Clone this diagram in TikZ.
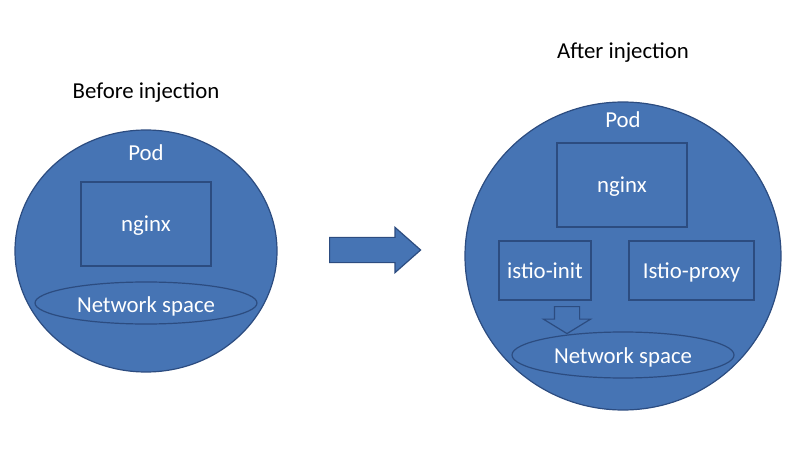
\documentclass[tikz,border=0pt]{standalone}
\usepackage{fontspec}
\setmainfont{Carlito}
\usetikzlibrary{shapes.geometric,shapes.arrows}
\definecolor{podblue}{RGB}{70,116,180}
\definecolor{podline}{RGB}{44,76,128}
\begin{document}
\begin{tikzpicture}[x=1pt,y=-1pt,
    blue/.style={fill=podblue, draw=podline, line width=1.2pt},
    txt/.style={font=\fontsize{22.8}{26}\selectfont, anchor=base}]

        \useasboundingbox (0,0) rectangle (796,468);

        % pods and what sits in them
        \begin{scope}[every node/.style={blue, inner sep=0pt}]
          \node[ellipse, minimum width=262, minimum height=242] (p1) at (146,251) {};
          \node[ellipse, minimum width=316, minimum height=308] (p2) at (623,256) {};
          \node[rectangle, minimum width=130, minimum height=84] (n1) at (146,224) {};
          \node[rectangle, minimum width=130, minimum height=84] (n2) at (622,185) {};
          \node[rectangle, minimum width=92, minimum height=59] (i) at (545,270.5) {};
          \node[rectangle, minimum width=125, minimum height=59] (x) at (691.5,270.5) {};
          \node[ellipse, minimum width=222, minimum height=42] (s1) at (146,303) {};
          \node[ellipse, minimum width=222, minimum height=46] (s2) at (623,355) {};
          \node[single arrow, anchor=tail, text height=12pt, text depth=12pt, minimum height=91,
                single arrow head extend=10, single arrow tip angle=83] (a) at (329,250) {};
          \node[single arrow, anchor=tail, rotate=-90, text height=12pt, text depth=12pt, minimum height=27,
                single arrow head extend=11, single arrow tip angle=117] (d) at (567,306) {};
        \end{scope}

        % labels
        \begin{scope}[every node/.style={txt, text=white, inner sep=0pt}]
          \node at (146,161) {Pod};
          \node at (623,128) {Pod};
          \node at (146,232) {nginx};
          \node at (622,193) {nginx};
          \node at (545,278) {istio-init};
          \node at (691.5,278) {Istio-proxy};
          \node at (146,312) {Network space};
          \node at (623,363) {Network space};
        \end{scope}

        \node[txt] (b) at (146,99) {Before injection};
        \node[txt] (c) at (623,59) {After injection};

      \end{tikzpicture}
\end{document}
